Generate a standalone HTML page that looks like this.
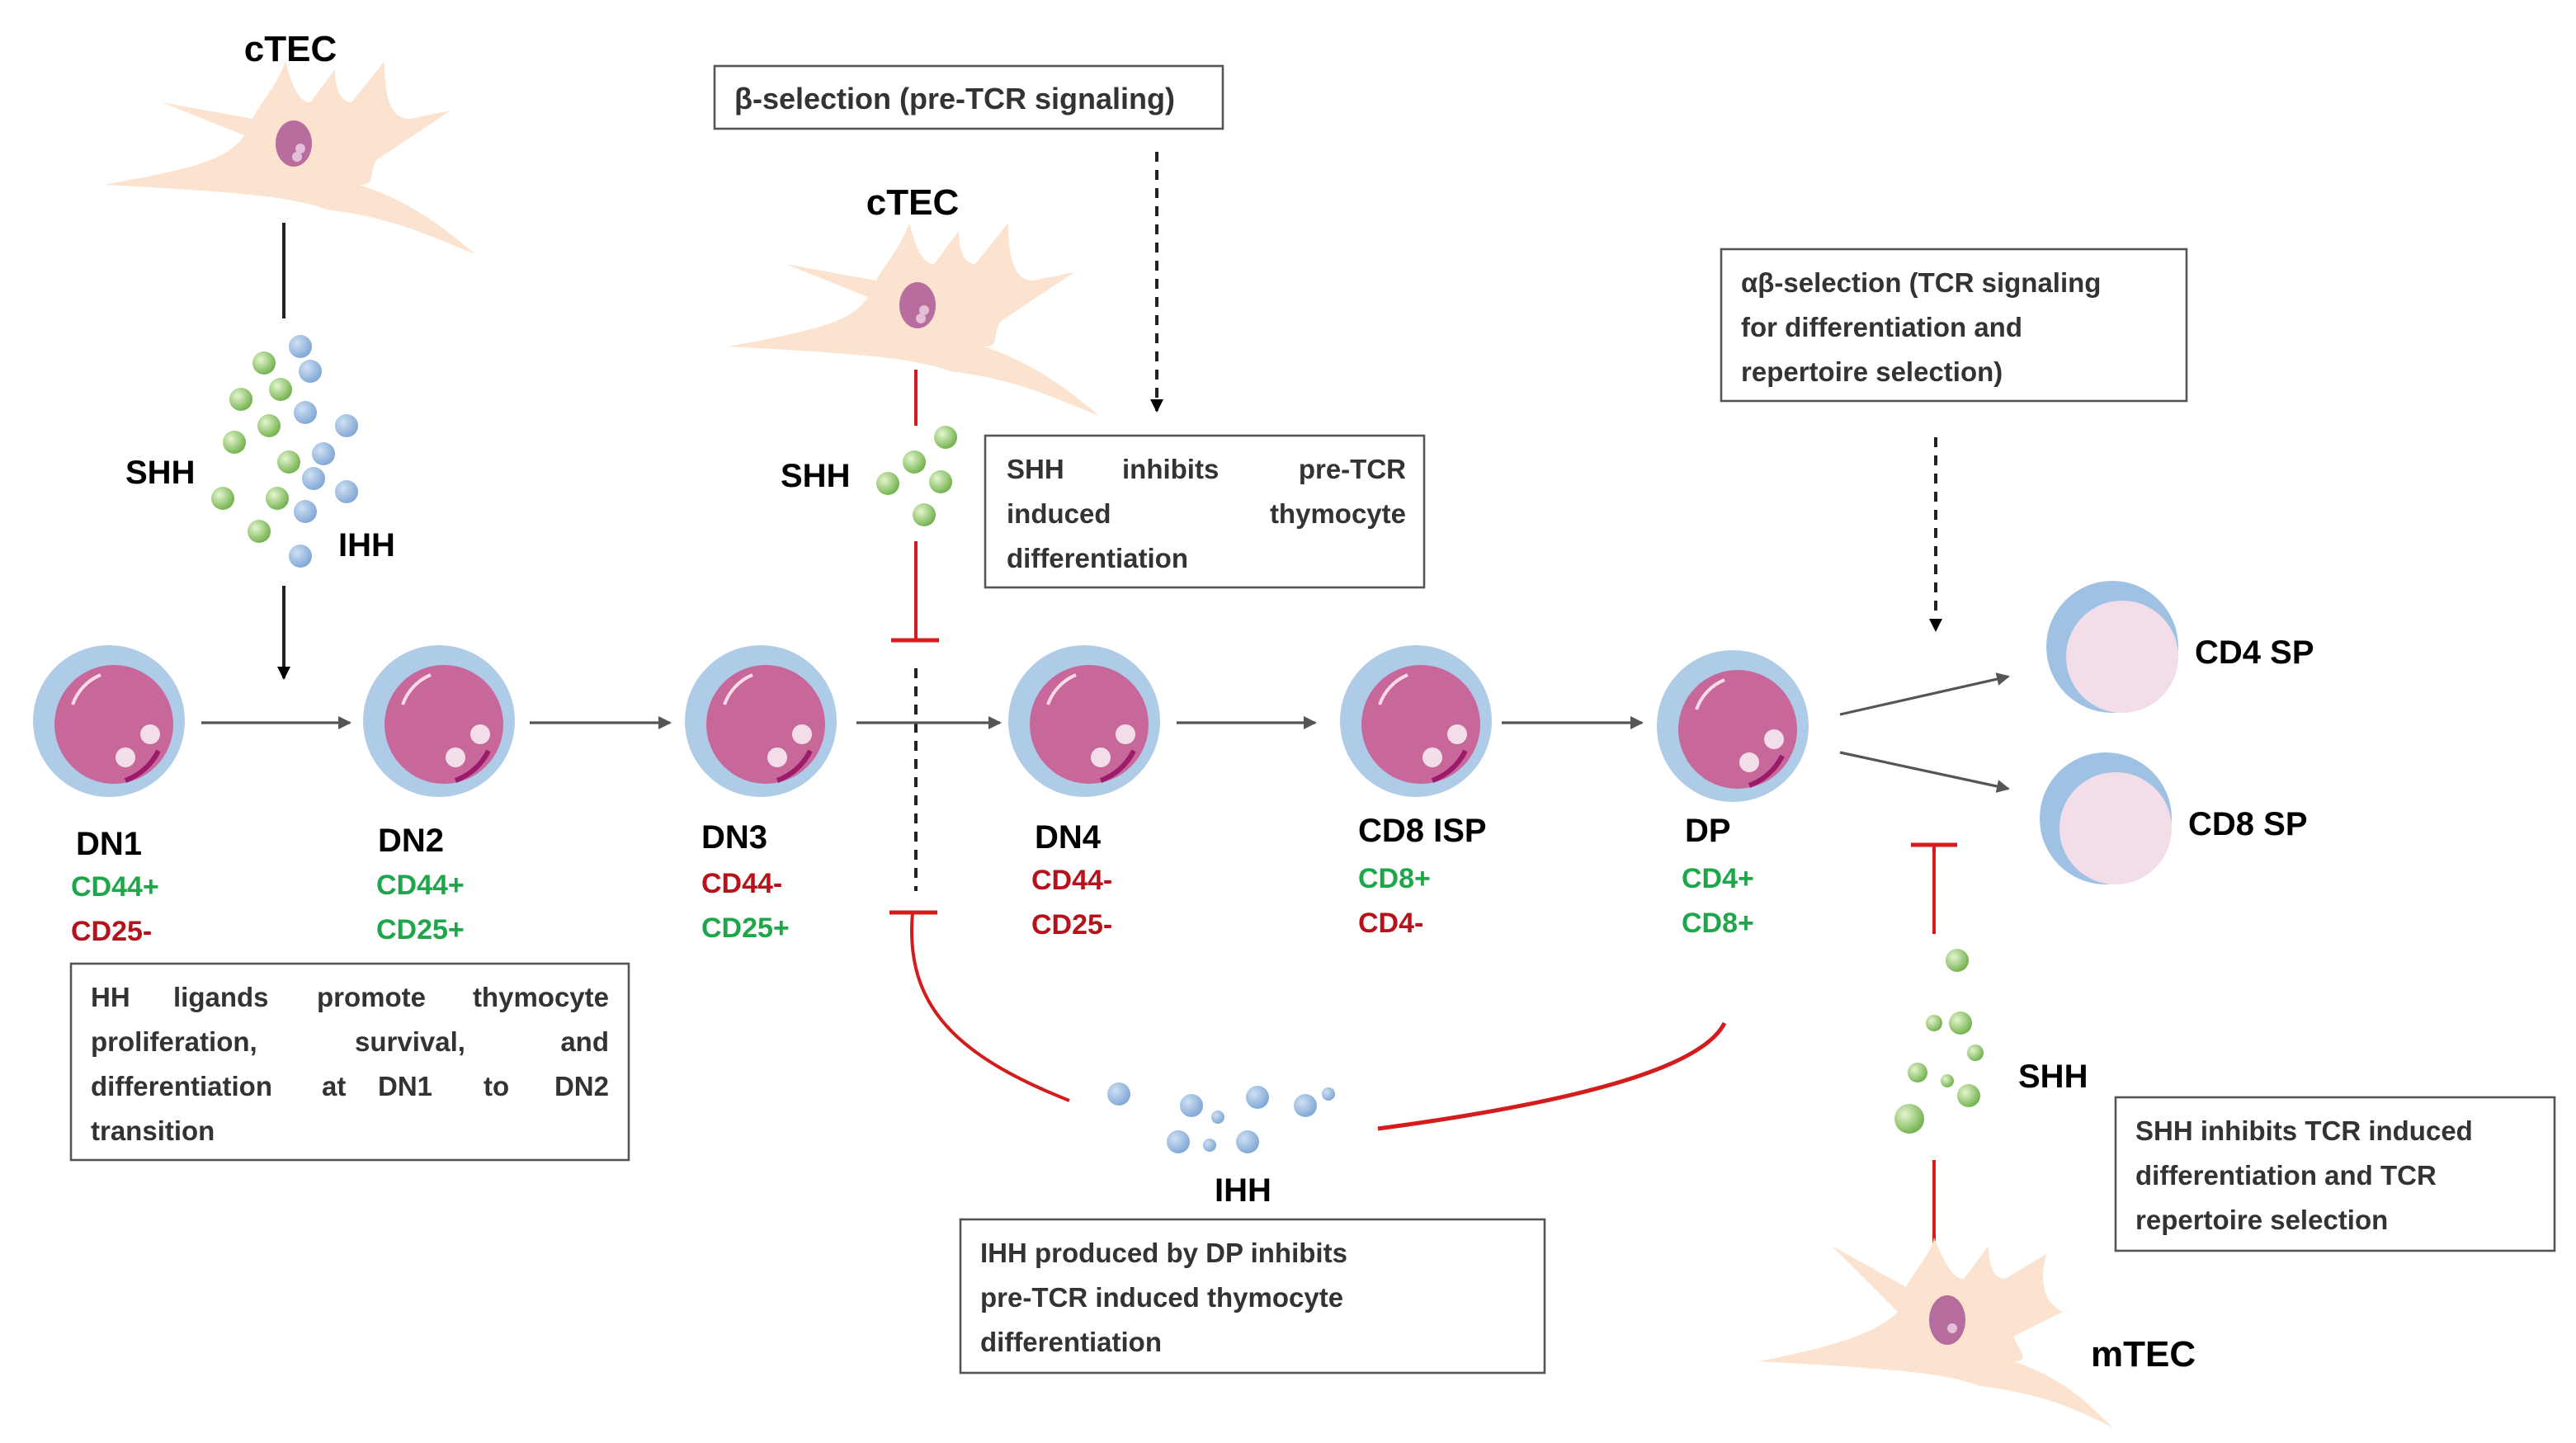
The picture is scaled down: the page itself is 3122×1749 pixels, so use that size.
<!DOCTYPE html>
<html><head><meta charset="utf-8"><style>
html,body{margin:0;padding:0;background:#fff}
svg{display:block}
text{font-family:"Liberation Sans",sans-serif;font-weight:bold}
.b{font-size:20px;fill:#000}
.t{font-size:16.5px;fill:#333;font-weight:bold}
.g{fill:#1fa64a;font-size:17px}
.r{fill:#b5121b;font-size:17px}
</style></head><body>
<svg width="3122" height="1749" viewBox="0 0 1561 874.5" xmlns="http://www.w3.org/2000/svg">
<defs>
<radialGradient id="gb" cx="0.35" cy="0.35" r="0.7"><stop offset="0" stop-color="#cfe0f3"/><stop offset="1" stop-color="#7ea6d4"/></radialGradient>
<radialGradient id="gg" cx="0.35" cy="0.35" r="0.7"><stop offset="0" stop-color="#e4f5cf"/><stop offset="1" stop-color="#6fb04a"/></radialGradient>
<g id="cell">
<ellipse cx="0" cy="0" rx="46" ry="46" fill="#aecbe8"/>
<circle cx="3" cy="2" r="36" fill="#c8689a"/>
<path d="M30 18 A36 36 0 0 1 10 36" stroke="#9b1a6a" stroke-width="3" fill="none"/>
<circle cx="25" cy="8" r="6" fill="#f2dde9"/>
<circle cx="10" cy="22" r="6" fill="#f2dde9"/>
<path d="M-22 -10 A30 30 0 0 1 -5 -28" stroke="#f7dbe9" stroke-width="2" fill="none"/>
</g>
<g id="sp">
<ellipse cx="0" cy="0" rx="40" ry="40" fill="#9fc2e4"/>
<circle cx="6" cy="6" r="34" fill="#f3dde8"/>
</g>
<g id="tec">
<path d="M-115 20 C-60 10 -40 5 -30 -10 L-80 -30 L-25 -20 C-20 -30 -10 -40 -5 -55 C0 -35 5 -30 10 -30 L25 -50 C25 -35 30 -30 35 -30 L55 -55 C55 -30 60 -20 70 -20 L95 -25 L50 5 C45 15 50 20 40 20 C70 30 90 45 110 62 C80 50 60 40 20 35 C0 28 -20 25 -115 20 Z" fill="#fbe3cf"/>
<ellipse cx="0" cy="-5" rx="11" ry="14" fill="#b86d9f"/>
<circle cx="4" cy="-2" r="3" fill="#e5bfd8"/><circle cx="2" cy="3" r="3" fill="#e5bfd8"/>
</g>
<g id="gd"><circle r="7" fill="url(#gg)"/></g>
<g id="bd"><circle r="7" fill="url(#gb)"/></g>
<marker id="ah" markerWidth="8" markerHeight="8" refX="7" refY="4" orient="auto" markerUnits="userSpaceOnUse"><path d="M0 0 L8 4 L0 8 Z" fill="#000"/></marker>
<marker id="ag" markerWidth="8" markerHeight="8" refX="7" refY="4" orient="auto" markerUnits="userSpaceOnUse"><path d="M0 0 L8 4 L0 8 Z" fill="#555"/></marker>
</defs>

<text x="176" y="37" class="b" text-anchor="middle" style="font-size:22px">cTEC</text>
<use href="#tec" x="178" y="92"/>
<line x1="172" y1="135" x2="172" y2="193" stroke="#222" stroke-width="2"/>
<g>
<use href="#bd" x="182" y="210"/>
<use href="#bd" x="188" y="225"/><use href="#gd" x="160" y="220"/>
<use href="#gd" x="146" y="242"/><use href="#gd" x="170" y="236"/><use href="#bd" x="185" y="250"/>
<use href="#gd" x="163" y="258"/><use href="#bd" x="210" y="258"/><use href="#gd" x="142" y="268"/>
<use href="#bd" x="196" y="275"/><use href="#gd" x="175" y="280"/><use href="#bd" x="190" y="290"/>
<use href="#gd" x="135" y="302"/><use href="#gd" x="168" y="302"/><use href="#bd" x="210" y="298"/>
<use href="#gd" x="157" y="322"/><use href="#bd" x="185" y="310"/><use href="#bd" x="182" y="337"/>
</g>
<text x="76" y="293" class="b">SHH</text>
<text x="205" y="337" class="b">IHH</text>
<line x1="172" y1="355" x2="172" y2="411" stroke="#222" stroke-width="2" marker-end="url(#ah)"/>

<rect x="433" y="40" width="308" height="38" fill="#fff" stroke="#555" stroke-width="1.3"/>
<text x="445" y="66" class="t" style="font-size:18px">β-selection (pre-TCR signaling)</text>
<line x1="701" y1="92" x2="701" y2="249" stroke="#222" stroke-width="2" stroke-dasharray="6,5" marker-end="url(#ah)"/>

<text x="553" y="130" class="b" text-anchor="middle" style="font-size:22px">cTEC</text>
<use href="#tec" x="556" y="190"/>
<line x1="555" y1="224" x2="555" y2="258" stroke="#d41c1c" stroke-width="2"/>
<use href="#gd" x="573" y="265"/><use href="#gd" x="554" y="280"/><use href="#gd" x="538" y="293"/>
<use href="#gd" x="570" y="292"/><use href="#gd" x="560" y="312"/>
<text x="473" y="295" class="b">SHH</text>
<line x1="555" y1="328" x2="555" y2="388" stroke="#d41c1c" stroke-width="2"/>
<line x1="540" y1="388" x2="569" y2="388" stroke="#d41c1c" stroke-width="2.5"/>
<line x1="555" y1="405" x2="555" y2="540" stroke="#222" stroke-width="2" stroke-dasharray="6,5"/>

<rect x="597" y="264" width="266" height="92" fill="#fff" stroke="#555" stroke-width="1.3"/>
<text x="610" y="290" class="t">SHH</text><text x="680" y="290" class="t">inhibits</text><text x="852" y="290" class="t" text-anchor="end">pre-TCR</text>
<text x="610" y="317" class="t">induced</text><text x="852" y="317" class="t" text-anchor="end">thymocyte</text>
<text x="610" y="344" class="t">differentiation</text>

<rect x="1043" y="151" width="282" height="92" fill="#fff" stroke="#555" stroke-width="1.3"/>
<text x="1055" y="177" class="t">αβ-selection (TCR signaling</text>
<text x="1055" y="204" class="t">for differentiation and</text>
<text x="1055" y="231" class="t">repertoire selection)</text>
<line x1="1173" y1="265" x2="1173" y2="382" stroke="#222" stroke-width="2" stroke-dasharray="6,5" marker-end="url(#ah)"/>

<use href="#cell" x="66" y="437"/>
<use href="#cell" x="266" y="437"/>
<use href="#cell" x="461" y="437"/>
<use href="#cell" x="657" y="437"/>
<use href="#cell" x="858" y="437"/>
<use href="#cell" x="1050" y="440"/>
<use href="#sp" x="1280" y="392"/>
<use href="#sp" x="1276" y="496"/>

<g stroke="#555" stroke-width="1.6">
<line x1="122" y1="438" x2="212" y2="438" marker-end="url(#ag)"/>
<line x1="321" y1="438" x2="406" y2="438" marker-end="url(#ag)"/>
<line x1="519" y1="438" x2="606" y2="438" marker-end="url(#ag)"/>
<line x1="713" y1="438" x2="797" y2="438" marker-end="url(#ag)"/>
<line x1="910" y1="438" x2="995" y2="438" marker-end="url(#ag)"/>
<line x1="1115" y1="433" x2="1217" y2="410" marker-end="url(#ag)"/>
<line x1="1115" y1="456" x2="1217" y2="478" marker-end="url(#ag)"/>
</g>

<text x="1330" y="402" class="b">CD4 SP</text>
<text x="1326" y="506" class="b">CD8 SP</text>

<text x="46" y="518" class="b">DN1</text>
<text x="43" y="543" class="g">CD44+</text><text x="43" y="570" class="r">CD25-</text>
<text x="229" y="516" class="b">DN2</text>
<text x="228" y="542" class="g">CD44+</text><text x="228" y="569" class="g">CD25+</text>
<text x="425" y="514" class="b">DN3</text>
<text x="425" y="541" class="r">CD44-</text><text x="425" y="568" class="g">CD25+</text>
<text x="627" y="514" class="b">DN4</text>
<text x="625" y="539" class="r">CD44-</text><text x="625" y="566" class="r">CD25-</text>
<text x="823" y="510" class="b">CD8 ISP</text>
<text x="823" y="538" class="g">CD8+</text><text x="823" y="565" class="r">CD4-</text>
<text x="1021" y="510" class="b">DP</text>
<text x="1019" y="538" class="g">CD4+</text><text x="1019" y="565" class="g">CD8+</text>

<rect x="43" y="584" width="338" height="119" fill="#fff" stroke="#555" stroke-width="1.3"/>
<text class="t" y="610"><tspan x="55">HH</tspan><tspan x="105">ligands</tspan><tspan x="192">promote</tspan><tspan x="369" text-anchor="end">thymocyte</tspan></text>
<text class="t" y="637"><tspan x="55">proliferation,</tspan><tspan x="215">survival,</tspan><tspan x="369" text-anchor="end">and</tspan></text>
<text class="t" y="664"><tspan x="55">differentiation</tspan><tspan x="195">at</tspan><tspan x="229">DN1</tspan><tspan x="293">to</tspan><tspan x="369" text-anchor="end">DN2</tspan></text>
<text class="t" x="55" y="691">transition</text>

<line x1="539" y1="553" x2="568" y2="553" stroke="#d41c1c" stroke-width="2.5"/>
<path d="M553 553 C548 610 580 640 648 667" stroke="#d41c1c" stroke-width="2" fill="none"/>
<path d="M835 684 C940 670 1030 650 1045 620" stroke="#d41c1c" stroke-width="2.5" fill="none"/>
<use href="#bd" x="678" y="663"/><use href="#bd" x="722" y="670"/><use href="#bd" x="762" y="665"/>
<use href="#bd" x="791" y="670"/><use href="#bd" x="714" y="692"/><use href="#bd" x="756" y="692"/>
<circle cx="738" cy="677" r="4" fill="url(#gb)"/><circle cx="733" cy="694" r="4" fill="url(#gb)"/><circle cx="805" cy="663" r="4" fill="url(#gb)"/>
<text x="736" y="728" class="b">IHH</text>
<rect x="582" y="739" width="354" height="93" fill="#fff" stroke="#555" stroke-width="1.3"/>
<text x="594" y="765" class="t">IHH produced by DP inhibits</text>
<text x="594" y="792" class="t">pre-TCR induced thymocyte</text>
<text x="594" y="819" class="t">differentiation</text>

<line x1="1158" y1="512" x2="1186" y2="512" stroke="#d41c1c" stroke-width="2.5"/>
<line x1="1172" y1="512" x2="1172" y2="566" stroke="#d41c1c" stroke-width="2"/>
<use href="#gd" x="1186" y="582"/>
<circle cx="1172" cy="620" r="5" fill="url(#gg)"/><circle cx="1188" cy="620" r="7" fill="url(#gg)"/>
<circle cx="1197" cy="638" r="5" fill="url(#gg)"/><circle cx="1162" cy="650" r="6" fill="url(#gg)"/>
<circle cx="1180" cy="655" r="4" fill="url(#gg)"/><circle cx="1193" cy="664" r="7" fill="url(#gg)"/>
<circle cx="1157" cy="678" r="9" fill="url(#gg)"/>
<text x="1223" y="659" class="b">SHH</text>
<line x1="1172" y1="703" x2="1172" y2="757" stroke="#d41c1c" stroke-width="2"/>
<g transform="translate(1180,805)">
<path d="M-115 20 C-60 10 -40 0 -30 -10 L-70 -50 L-25 -25 C-20 -35 -10 -45 -8 -55 C0 -35 5 -30 10 -30 L25 -50 C25 -35 30 -30 35 -30 L60 -45 C55 -25 60 -15 70 -10 L40 5 C45 15 50 20 40 20 C70 30 85 45 100 60 C80 50 60 40 20 35 C0 28 -20 25 -115 20 Z" fill="#fbe3cf"/>
<ellipse cx="0" cy="-5" rx="11" ry="15" fill="#b86d9f"/>
<circle cx="3" cy="0" r="3" fill="#e5bfd8"/>
</g>
<text x="1267" y="828" class="b" style="font-size:22px">mTEC</text>

<rect x="1282" y="665" width="266" height="93" fill="#fff" stroke="#555" stroke-width="1.3"/>
<text x="1294" y="691" class="t">SHH inhibits TCR induced</text>
<text x="1294" y="718" class="t">differentiation and TCR</text>
<text x="1294" y="745" class="t">repertoire selection</text>
</svg>
</body></html>
